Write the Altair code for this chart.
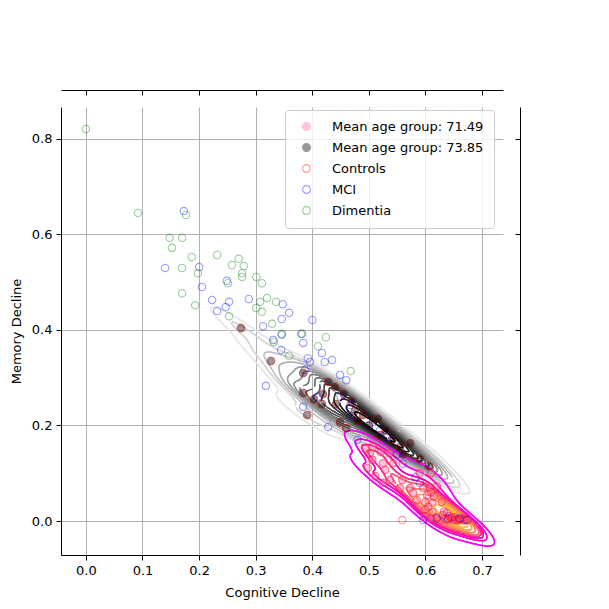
import numpy as np
import pandas as pd
import altair as alt

# ---------------- data ----------------
AGE_LABELS = ["Mean age group: 71.49", "Mean age group: 73.85"]
SERIES = AGE_LABELS + ["Controls", "MCI", "Dimentia"]

# Controls, older age group (73.85)
ctrl_old_x = [0.274, 0.327, 0.384, 0.391, 0.384, 0.403, 0.417, 0.419, 0.428, 0.442, 0.449, 0.456,
              0.460, 0.440, 0.470, 0.475, 0.490, 0.500, 0.516, 0.520, 0.540, 0.555, 0.573, 0.590,
              0.606, 0.480, 0.530, 0.560]
ctrl_old_y = [0.404, 0.335, 0.310, 0.222, 0.268, 0.255, 0.245, 0.266, 0.291, 0.245, 0.207, 0.266,
              0.195, 0.280, 0.250, 0.230, 0.222, 0.200, 0.214, 0.180, 0.170, 0.155, 0.163, 0.130,
              0.115, 0.210, 0.190, 0.140]
# Controls, younger age group (71.49)
ctrl_young_x = [0.493, 0.502, 0.507, 0.521, 0.536, 0.506, 0.525, 0.543, 0.498, 0.529, 0.511, 0.525,
                0.537, 0.559, 0.555, 0.573, 0.596, 0.608, 0.620, 0.578, 0.603, 0.585, 0.612, 0.629,
                0.599, 0.613, 0.638, 0.647, 0.656, 0.666, 0.635, 0.620, 0.625, 0.640, 0.650,
                0.660, 0.670, 0.605, 0.615, 0.600, 0.610, 0.590, 0.610, 0.600, 0.610, 0.645,
                0.655, 0.662, 0.630, 0.642, 0.652, 0.668, 0.675, 0.633]
ctrl_young_y = [0.153, 0.142, 0.155, 0.145, 0.142, 0.128, 0.121, 0.121, 0.111, 0.107, 0.094, 0.080,
                0.086, 0.086, 0.069, 0.069, 0.069, 0.071, 0.073, 0.059, 0.054, 0.044, 0.038, 0.040,
                0.023, 0.019, 0.017, 0.008, 0.004, 0.004, 0.004, 0.008, 0.002, 0.002, 0.002,
                0.002, 0.003, 0.030, 0.052, 0.040, 0.060, 0.100, 0.100, 0.010, 0.005, 0.006,
                0.001, 0.006, 0.012, 0.010, 0.008, 0.001, 0.002, 0.020]
# Controls not in either age-group scatter
ctrl_other_x = [0.559]
ctrl_other_y = [0.002]

mci_x = [0.173, 0.140, 0.200, 0.205, 0.249, 0.223, 0.232, 0.247, 0.253, 0.288, 0.348, 0.359,
         0.346, 0.400, 0.313, 0.346, 0.382, 0.331, 0.384, 0.345, 0.417, 0.435, 0.422, 0.396,
         0.318, 0.460, 0.449, 0.392, 0.387, 0.384, 0.428, 0.582, 0.590, 0.532, 0.467, 0.673,
         0.596, 0.450, 0.470, 0.500, 0.520, 0.550, 0.560, 0.620, 0.640, 0.660, 0.410, 0.480]
mci_y = [0.649, 0.530, 0.532, 0.490, 0.503, 0.463, 0.440, 0.448, 0.459, 0.465, 0.454, 0.436,
         0.423, 0.421, 0.408, 0.390, 0.392, 0.379, 0.373, 0.358, 0.352, 0.337, 0.333, 0.333,
         0.283, 0.295, 0.306, 0.341, 0.316, 0.239, 0.197, 0.092, 0.080, 0.176, 0.243, 0.002,
         0.002, 0.260, 0.220, 0.200, 0.190, 0.140, 0.120, 0.005, 0.005, 0.005, 0.260, 0.170]

dem_x = [0.000, 0.092, 0.177, 0.148, 0.170, 0.152, 0.187, 0.170, 0.170, 0.193, 0.232, 0.258,
         0.270, 0.279, 0.276, 0.276, 0.198, 0.251, 0.301, 0.311, 0.308, 0.320, 0.336, 0.301,
         0.311, 0.253, 0.329, 0.424, 0.410, 0.346, 0.332, 0.359, 0.468, 0.380]
dem_y = [0.821, 0.645, 0.641, 0.593, 0.593, 0.572, 0.553, 0.530, 0.477, 0.452, 0.557, 0.536,
         0.549, 0.534, 0.519, 0.511, 0.519, 0.498, 0.511, 0.498, 0.459, 0.467, 0.459, 0.446,
         0.438, 0.429, 0.413, 0.385, 0.366, 0.392, 0.375, 0.346, 0.314, 0.392]

X_TICKS = [0.0, 0.1, 0.2, 0.3, 0.4, 0.5, 0.6, 0.7]
Y_TICKS = [0.0, 0.2, 0.4, 0.6, 0.8]
X_DOMAIN = [-0.044, 0.737]
Y_DOMAIN = [-0.0712, 0.867]


# ---------------- 2-D KDE contours (seaborn style iso-proportion levels) ----------------
def kde_segments(xs, ys, n_levels=10, grid=170):
    xs = np.asarray(xs, float)
    ys = np.asarray(ys, float)
    n = len(xs)
    cov = np.cov(np.vstack([xs, ys])) * n ** (-2.0 / 6.0)
    bw = np.sqrt(np.diag(cov))
    gx = np.linspace(xs.min() - 3 * bw[0], xs.max() + 3 * bw[0], grid)
    gy = np.linspace(ys.min() - 3 * bw[1], ys.max() + 3 * bw[1], grid)
    X, Y = np.meshgrid(gx, gy)
    inv = np.linalg.inv(cov)
    dx = X[..., None] - xs
    dy = Y[..., None] - ys
    q = inv[0, 0] * dx * dx + 2 * inv[0, 1] * dx * dy + inv[1, 1] * dy * dy
    Z = np.exp(-0.5 * q).sum(-1)
    iso = np.linspace(0.05, 1, n_levels)
    sv = np.sort(Z.ravel())[::-1]
    cum = np.cumsum(sv) / sv.sum()
    idx = np.searchsorted(cum, 1 - iso)
    levels = np.take(sv, idx, mode="clip")

    rows = []
    a = Z[:-1, :-1]; b = Z[:-1, 1:]; c = Z[1:, 1:]; d = Z[1:, :-1]
    XJ = X[:-1, :-1]; YI = Y[:-1, :-1]
    ddx = gx[1] - gx[0]; ddy = gy[1] - gy[0]
    for li, lev in enumerate(levels[:-1]):
        def cross(v1, v2):
            m = (v1 - lev) * (v2 - lev) < 0
            with np.errstate(divide="ignore", invalid="ignore"):
                t = np.where(m, (lev - v1) / (v2 - v1), 0.0)
            return m, t
        m0, t0 = cross(a, b)
        m1, t1 = cross(b, c)
        m2, t2 = cross(d, c)
        m3, t3 = cross(a, d)
        P = [
            (XJ + t0 * ddx, YI),
            (XJ + ddx, YI + t1 * ddy),
            (XJ + t2 * ddx, YI + ddy),
            (XJ, YI + t3 * ddy),
        ]
        M = [m0, m1, m2, m3]
        cnt = m0.astype(int) + m1 + m2 + m3
        for p, qq in [(0, 1), (0, 2), (0, 3), (1, 2), (1, 3), (2, 3)]:
            mask = (cnt == 2) & M[p] & M[qq]
            for x1, y1, x2, y2 in zip(P[p][0][mask], P[p][1][mask], P[qq][0][mask], P[qq][1][mask]):
                rows.append((x1, y1, x2, y2, li))
        mask4 = cnt == 4
        for p, qq in [(0, 3), (1, 2)]:
            for x1, y1, x2, y2 in zip(P[p][0][mask4], P[p][1][mask4], P[qq][0][mask4], P[qq][1][mask4]):
                rows.append((x1, y1, x2, y2, li))
    return pd.DataFrame(rows, columns=["x", "y", "x2", "y2", "lev"]), n_levels - 2


seg_old, top_old = kde_segments(ctrl_old_x, ctrl_old_y, n_levels=16)
seg_young, top_young = kde_segments(ctrl_young_x, ctrl_young_y, n_levels=10)

# ---------------- scatter table ----------------
frames = [
    pd.DataFrame({"x": ctrl_young_x, "y": ctrl_young_y, "series": AGE_LABELS[0]}),
    pd.DataFrame({"x": ctrl_old_x, "y": ctrl_old_y, "series": AGE_LABELS[1]}),
    pd.DataFrame({"x": ctrl_young_x + ctrl_old_x + ctrl_other_x,
                  "y": ctrl_young_y + ctrl_old_y + ctrl_other_y, "series": "Controls"}),
    pd.DataFrame({"x": mci_x, "y": mci_y, "series": "MCI"}),
    pd.DataFrame({"x": dem_x, "y": dem_y, "series": "Dimentia"}),
]
pts = pd.concat(frames, ignore_index=True)

FONT = "DejaVu Sans"
xscale = alt.Scale(domain=X_DOMAIN, nice=False, zero=False)
yscale = alt.Scale(domain=Y_DOMAIN, nice=False, zero=False)

common_axis = dict(
    grid=True, gridColor="#b0b0b0", gridWidth=1, domainColor="black", tickColor="black",
    tickSize=5, labelFontSize=13, titleFontSize=13, labelFont=FONT, titleFont=FONT,
    labelColor="black", titleColor="black", titleFontWeight="normal", labelPadding=4,
    format=".1f", labelFlush=False, labelOverlap=False,
)
x_main = alt.Axis(orient="bottom", values=X_TICKS, title="Cognitive Decline", titlePadding=9,
                  **common_axis)
y_main = alt.Axis(orient="left", values=Y_TICKS, title="Memory Decline", titlePadding=8,
                  **common_axis)

marg_axis = dict(labels=False, grid=False, title=None, domainColor="black", tickColor="black",
                 tickSize=5)
x_marg = alt.Axis(orient="bottom", offset=-465, values=X_TICKS, **marg_axis)
y_marg = alt.Axis(orient="left", offset=-459, values=Y_TICKS, **marg_axis)

gray_kde = alt.Chart(seg_old).mark_rule(strokeWidth=1.5, strokeCap="round", clip=True).encode(
    x=alt.X("x:Q", scale=xscale, axis=None),
    y=alt.Y("y:Q", scale=yscale, axis=y_marg),
    x2="x2:Q", y2="y2:Q",
    color=alt.Color("lev:Q", scale=alt.Scale(domain=[0, top_old], range=["#e6e6e6", "#000000"]),
                    legend=None),
)
pink_kde = alt.Chart(seg_young).mark_rule(strokeWidth=1.5, strokeCap="round", clip=True).encode(
    x=alt.X("x:Q", scale=xscale, axis=x_marg),
    y=alt.Y("y:Q", scale=yscale, axis=None),
    x2="x2:Q", y2="y2:Q",
    color=alt.Color("lev:Q", scale=alt.Scale(domain=[0, top_young], range=["#ff00ff", "#ffd040"]),
                    legend=None),
)

points = alt.Chart(pts).mark_point(shape="circle", size=55, strokeWidth=1.1, clip=True).encode(
    x=alt.X("x:Q", scale=xscale, axis=x_main),
    y=alt.Y("y:Q", scale=yscale, axis=y_main),
    stroke=alt.Stroke("series:N", scale=alt.Scale(domain=SERIES,
                      range=["#ff69b4", "#000000", "#ff0000", "#0000ff", "#008000"]), title=None),
    fill=alt.Fill("series:N", scale=alt.Scale(domain=SERIES,
                  range=["#ff69b4", "#000000", "transparent", "transparent", "transparent"]),
                  title=None),
    opacity=alt.Opacity("series:N", scale=alt.Scale(domain=SERIES,
                        range=[0.4, 0.38, 0.62, 0.22, 0.22]), title=None),
)

chart = alt.layer(gray_kde, pink_kde, points).resolve_scale(
    color="independent"
).resolve_axis(
    x="independent", y="independent"
).properties(
    width=442, height=448,
    autosize=alt.AutoSizeParams(type="none"),
    padding={"left": 53, "top": 99, "right": 90, "bottom": 46},
).configure_view(
    stroke=None
).configure_legend(
    orient="none", legendX=224, legendY=3, labelFont=FONT, labelFontSize=13, labelColor="black",
    fillColor="rgba(255,255,255,0.8)", strokeColor="#cccccc", cornerRadius=3, padding=10,
    symbolSize=60, symbolStrokeWidth=1.1, rowPadding=7, labelOffset=19, symbolOffset=5,
)

chart.save("out.html", embed_options={"renderer": "svg", "actions": False})
